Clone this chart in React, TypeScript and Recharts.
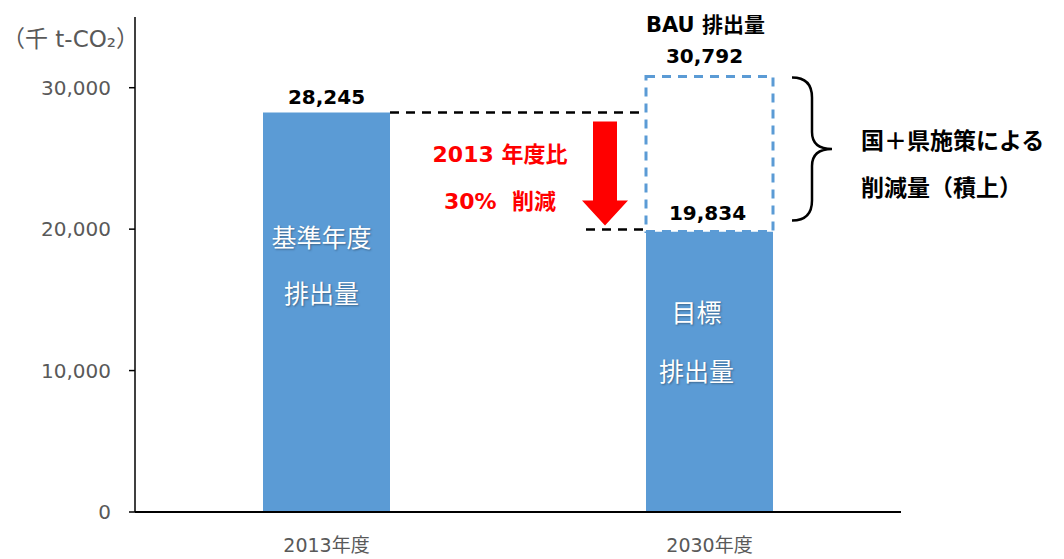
import { BarChart, Bar, XAxis, YAxis, ReferenceLine, LabelList, Label } from "recharts";

const categories = ["2013年度", "2030年度"];
const emissions = [28245, 19834];
const bauTotals: (number | null)[] = [null, 30792];
const barNotes = [["基準年度", "排出量"], ["目標", "排出量"]];
const yTicks = [0, 10000, 20000, 30000];
const reductionText = ["2013 年度比", "30%  削減"];
const braceText = ["国＋県施策による", "削減量（積上）"];

const data = categories.map((name, i) => ({
  name,
  emission: emissions[i],
  gap: bauTotals[i] == null ? 0 : (bauTotals[i] as number) - emissions[i],
}));

const BAR = 127;
const BLUE = "#5B9BD5";
const FONT = "'DejaVu Sans', 'Noto Sans CJK JP', sans-serif";
const fmt = (v: number) => v.toLocaleString("en-US");

// labels on the main bars: value on top (base year only) + white notes inside
const EmissionLabel = (p: any) => {
  const idx = categories.indexOf(p.value);
  const cx = p.x + p.width / 2;
  const offs = idx === 0 ? [125, 181] : [82, 141];
  const shift = idx === 0 ? -5 : -13;
  return (
    <g fontFamily={FONT}>
      {bauTotals[idx] == null && (
        <text x={cx} y={p.y - 9} textAnchor="middle" fontSize={20} fontWeight="bold" fill="#000">
          {fmt(emissions[idx])}
        </text>
      )}
      {barNotes[idx].map((t, k) => (
        <text key={k} x={cx + shift} y={p.y + offs[k] + 9} textAnchor="middle" fontSize={25} fill="#fff"
          style={{ textShadow: "1px 1px 2px rgba(0,0,0,0.35)" }}>
          {t}
        </text>
      ))}
    </g>
  );
};

// labels on the dashed BAU box
const GapLabel = (p: any) => {
  const idx = categories.indexOf(p.value);
  if (bauTotals[idx] == null) return null;
  const cx = p.x + p.width / 2;
  return (
    <g fontFamily={FONT} fontWeight="bold" fontSize={20} fill="#000" textAnchor="middle">
      <text x={cx - 4} y={p.y - 45} fontSize={21}>BAU 排出量</text>
      <text x={cx - 5} y={p.y - 14}>{fmt(bauTotals[idx] as number)}</text>
      <text x={cx - 2} y={p.y + p.height - 11}>{fmt(emissions[idx])}</text>
    </g>
  );
};

const GapShape = (p: any) => {
  if (!p.height || p.height <= 0) return null;
  return (
    <rect x={p.x} y={p.y} width={p.width} height={p.height} fill="#fff" stroke={BLUE}
      strokeWidth={3} strokeDasharray="9 7" />
  );
};

// dashed guide lines, red arrow and red text between the bars
const ReductionMark = (p: any) => {
  const { x1, y1, x2, y2 } = p;
  const left = x1 + BAR / 2;
  const right = x2 - BAR / 2;
  const ax = right - 41;
  const tx = left + 110;
  return (
    <g>
      <line x1={left} y1={y1} x2={right} y2={y1} stroke="#000" strokeWidth={2.5} strokeDasharray="9 7" />
      <line x1={right - 60} y1={y2 - 2} x2={right} y2={y2 - 2} stroke="#000" strokeWidth={2.5} strokeDasharray="9 7" />
      <path
        d={`M ${ax - 12} ${y1 + 9} L ${ax + 12} ${y1 + 9} L ${ax + 12} ${y2 - 31} L ${ax + 23} ${y2 - 31} L ${ax} ${y2 - 6} L ${ax - 23} ${y2 - 31} L ${ax - 12} ${y2 - 31} Z`}
        fill="#FF0000"
      />
      <g fontFamily={FONT} fontWeight="bold" fontSize={22} fill="#FF0000" textAnchor="middle">
        <text x={tx} y={y1 + 49}>{reductionText[0]}</text>
        <text x={tx} y={y1 + 96} style={{ whiteSpace: "pre" }}>{reductionText[1]}</text>
      </g>
    </g>
  );
};

// curly brace on the right of the BAU box with its note
const BraceMark = (p: any) => {
  const { x1, y1, y2 } = p;
  const bx = x1 + BAR / 2 + 19;
  const top = y1 + 1;
  const bot = y2 - 11;
  const m = (top + bot) / 2;
  return (
    <g>
      <path
        d={`M ${bx} ${top} Q ${bx + 20} ${top} ${bx + 20} ${top + 20} L ${bx + 20} ${m - 17} Q ${bx + 20} ${m} ${bx + 40} ${m} Q ${bx + 20} ${m} ${bx + 20} ${m + 17} L ${bx + 20} ${bot - 20} Q ${bx + 20} ${bot} ${bx} ${bot}`}
        fill="none" stroke="#000" strokeWidth={2.5}
      />
      <g fontFamily={FONT} fontWeight="bold" fontSize={23} fill="#000">
        <text x={bx + 69} y={m}>{braceText[0]}</text>
        <text x={bx + 69} y={m + 47}>{braceText[1]}</text>
      </g>
    </g>
  );
};

export default function App() {
  return (
    <div style={{ position: "absolute", left: 0, top: 0, width: 1064, height: 559, background: "#fff" }}>
      <BarChart width={1064} height={559} data={data} margin={{ top: 17, right: 163, left: 0, bottom: 0 }}
        barCategoryGap="33%">
        <XAxis dataKey="name" height={47} axisLine={{ stroke: "#000", strokeWidth: 2 }} tickLine={false}
          tickMargin={21} tick={{ fill: "#595959", fontSize: 19, fontFamily: FONT }} />
        <YAxis width={135} domain={[0, 35000]} ticks={yTicks} tickFormatter={fmt} tickSize={6} tickMargin={18}
          axisLine={{ stroke: "#000", strokeWidth: 1.5 }} tickLine={{ stroke: "#000", strokeWidth: 1.5 }}
          tick={{ fill: "#595959", fontSize: 20, fontFamily: FONT }}>
          <Label
            content={(lp: any) => (
              <text x={(lp.viewBox?.x ?? 0) + 2} y={(lp.viewBox?.y ?? 17) + 30} fontSize={23}
                fill="#595959" fontFamily={FONT}>
                （千 t-CO₂）
              </text>
            )}
          />
        </YAxis>
        <Bar dataKey="emission" stackId="a" fill={BLUE} barSize={BAR} isAnimationActive={false}>
          <LabelList dataKey="name" content={EmissionLabel} />
        </Bar>
        <Bar dataKey="gap" stackId="a" barSize={BAR} shape={GapShape} isAnimationActive={false}>
          <LabelList dataKey="name" content={GapLabel} />
        </Bar>
        <ReferenceLine
          segment={[{ x: categories[0], y: emissions[0] }, { x: categories[1], y: emissions[1] }]}
          shape={ReductionMark}
        />
        <ReferenceLine
          segment={[{ x: categories[1], y: bauTotals[1] as number }, { x: categories[1], y: emissions[1] }]}
          shape={BraceMark}
        />
      </BarChart>
    </div>
  );
}
